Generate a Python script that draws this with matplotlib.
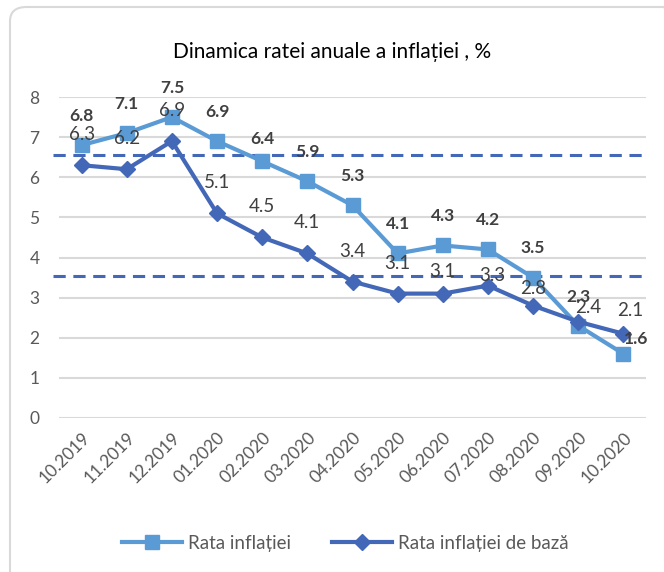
import matplotlib.pyplot as plt
from matplotlib.patches import FancyBboxPatch

months = ['10.2019', '11.2019', '12.2019', '01.2020', '02.2020', '03.2020', '04.2020',
          '05.2020', '06.2020', '07.2020', '08.2020', '09.2020', '10.2020']
rata = [6.8, 7.1, 7.5, 6.9, 6.4, 5.9, 5.3, 4.1, 4.3, 4.2, 3.5, 2.3, 1.6]
rata_baza = [6.3, 6.2, 6.9, 5.1, 4.5, 4.1, 3.4, 3.1, 3.1, 3.3, 2.8, 2.4, 2.1]
band = [6.55, 3.55]

light = '#5B9BD5'
dark = '#4468B8'
txt = '#404040'

plt.rcParams['font.family'] = ['Lato', 'DejaVu Sans']

fig = plt.figure(figsize=(6.64, 5.72), dpi=100)
W, H = 664, 572
# rounded chart border
box = FancyBboxPatch((10 / W, -20 / H), 670 / W, 585 / H,
                     boxstyle='round,pad=0,rounding_size=0.025',
                     transform=fig.transFigure, facecolor='none',
                     edgecolor='#D9D9D9', linewidth=1.5, zorder=-1)
fig.patches.append(box)

ax = fig.add_axes([59 / W, 1 - 418 / H, 587 / W, 321 / H])
ax.set_facecolor('none')
x = list(range(len(months)))

ax.plot(x, rata, color=light, lw=3, marker='s', ms=10, label='Rata inflației', zorder=3)
ax.plot(x, rata_baza, color=dark, lw=3, marker='D', ms=8.5, label='Rata inflației de bază', zorder=3)

for y in band:
    ax.axhline(y, xmin=-0.01, xmax=1.0, color=dark, lw=2.2, ls=(0, (4, 2.5)), zorder=2, clip_on=False)

# label offsets (points), hand-moved labels as in the source chart
off_rata = {4: (0, 16), 12: (9, 11)}
off_baza = {8: (0, 16), 9: (3, 7), 10: (0, 12), 11: (7, 10), 12: (5, 17)}

for i, v in enumerate(rata):
    ax.annotate(f'{v}', (i, v), xytext=off_rata.get(i, (0, 21)), textcoords='offset points',
                ha='center', va='center', fontsize=12.5, fontweight='bold', color=txt, zorder=5)
for i, v in enumerate(rata_baza):
    ax.annotate(f'{v}', (i, v), xytext=off_baza.get(i, (0, 22)), textcoords='offset points',
                ha='center', va='center', fontsize=13.5, color=txt, zorder=4)

ax.set_xlim(-0.5, len(months) - 0.5)
ax.set_ylim(0, 8)
ax.set_yticks(range(0, 9))
ax.set_xticks(x)
ax.set_xticklabels(months, rotation=45, ha='right', rotation_mode='anchor')
ax.tick_params(axis='both', length=0, labelsize=12.5, colors='#595959')
ax.tick_params(axis='x', pad=8)
ax.tick_params(axis='y', pad=14)
ax.grid(axis='y', color='#D9D9D9', lw=1.5)
ax.set_axisbelow(True)
for s in ax.spines.values():
    s.set_visible(False)

fig.text(0.5, 1 - 52 / H, 'Dinamica ratei anuale a inflației , %', ha='center', va='center',
         fontsize=15, color='black')

fig.legend(loc='center', bbox_to_anchor=(0.52, 1 - 543 / H), ncol=2, frameon=False,
           fontsize=13.5, labelcolor='#595959', handlelength=3.2, columnspacing=2.2,
           handletextpad=0.3)

fig.savefig('out.png', dpi=100)
